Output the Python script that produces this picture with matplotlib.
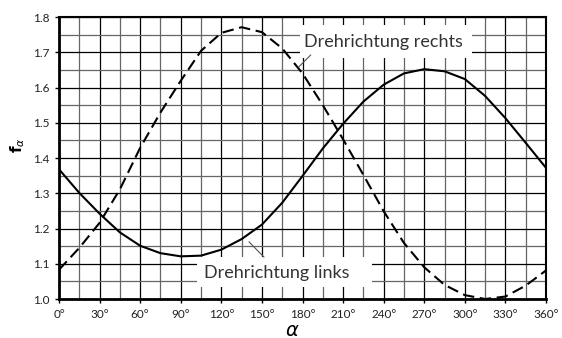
import matplotlib
matplotlib.use('Agg')
import matplotlib.pyplot as plt
import numpy as np
from matplotlib.patches import Rectangle

# angle in degrees, readings every 15 deg
alpha = [0, 15, 30, 45, 60, 75, 90, 105, 120, 135, 150, 165, 180,
         195, 210, 225, 240, 255, 270, 285, 300, 315, 330, 345, 360]
f_links = [1.368, 1.301, 1.242, 1.189, 1.151, 1.130, 1.121, 1.123, 1.140, 1.170, 1.211, 1.273, 1.349,
           1.427, 1.497, 1.560, 1.608, 1.640, 1.652, 1.646, 1.624, 1.576, 1.513, 1.443, 1.372]
f_rechts = [1.083, 1.145, 1.216, 1.311, 1.429, 1.529, 1.619, 1.704, 1.755, 1.771, 1.757, 1.711, 1.640,
            1.550, 1.453, 1.352, 1.249, 1.159, 1.090, 1.040, 1.011, 1.000, 1.007, 1.038, 1.081]

x_ticks = list(range(0, 361, 30))
x_labels = [f'{t}°' for t in x_ticks]
y_ticks = [1.0, 1.1, 1.2, 1.3, 1.4, 1.5, 1.6, 1.7, 1.8]

plt.rcParams['font.family'] = ['Lato', 'DejaVu Sans']

fig = plt.figure(figsize=(5.62, 3.38), dpi=100)
ax = fig.add_axes([59/562, 1 - 299/338, 487/562, 282/338])

ax.set_xlim(0, 360)
ax.set_ylim(1.0, 1.8)

# grid: minor lines gray, major black
ax.set_xticks(x_ticks)
ax.set_xticklabels(x_labels, fontsize=8.5, color='#222222')
ax.set_xticks(np.arange(15, 360, 30), minor=True)
ax.set_yticks(y_ticks)
ax.set_yticklabels([f'{v:.1f}' for v in y_ticks], fontsize=8.5, color='#222222')
ax.set_yticks(np.arange(1.05, 1.8, 0.1), minor=True)
ax.grid(True, which='major', color='black', linewidth=0.9)
ax.grid(True, which='minor', color='#666666', linewidth=0.9)
ax.tick_params(which='major', length=3, width=1, direction='out', pad=4)
ax.tick_params(which='minor', length=0)

for side in ['left', 'bottom']:
    ax.spines[side].set_linewidth(2)
for side in ['top', 'right']:
    ax.spines[side].set_linewidth(1.5)

ax.plot(alpha, f_links, color='black', linewidth=1.5, zorder=3)
ax.plot(alpha, f_rechts, color='black', linewidth=1.5, linestyle=(0, (5.5, 2.7)), zorder=3)

# label boxes (white, cover the grid)
ax.add_patch(Rectangle((178.2, 1.684), 127.1, 0.093, facecolor='white',
                       edgecolor='none', zorder=2.5))
ax.text(240.2, 1.7135, 'Drehrichtung rechts', fontsize=13, color='#333333',
        ha='center', va='baseline', zorder=4)
ax.plot([177.4, 186.0], [1.659, 1.692], color='#555555', linewidth=0.8, zorder=4)

ax.add_patch(Rectangle((102.0, 1.034), 129.4, 0.085, facecolor='white',
                       edgecolor='none', zorder=2.5))
ax.text(160.8, 1.0596, 'Drehrichtung links', fontsize=13, color='#333333',
        ha='center', va='baseline', zorder=4)
ax.plot([140.5, 151.5], [1.162, 1.119], color='#555555', linewidth=0.8, zorder=4)

fig.text(18/562, 1 - 145/338, r'$\mathbf{f}_{\alpha}$', rotation=90, fontsize=11,
         ha='center', va='center')
fig.text(292/562, 1 - 331/338, r'$\alpha$', fontsize=14, ha='center', va='center')

fig.savefig('out.png', dpi=100)
